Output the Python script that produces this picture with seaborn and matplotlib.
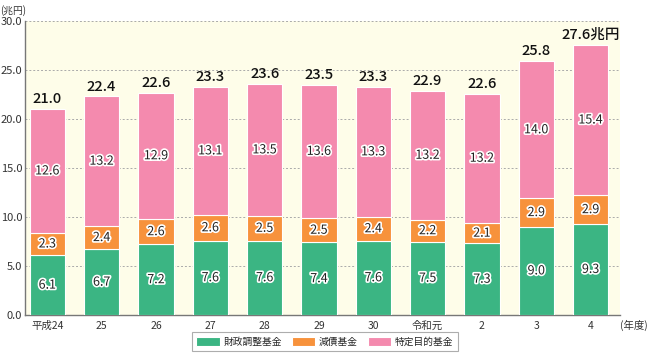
import numpy as np
import pandas as pd
import matplotlib
matplotlib.use("Agg")
import matplotlib.pyplot as plt
import matplotlib.patheffects as pe
import seaborn as sns

years = ["平成24", "25", "26", "27", "28", "29", "30", "令和元", "2", "3", "4"]
fiscal_adj = [6.1, 6.7, 7.2, 7.6, 7.6, 7.4, 7.6, 7.5, 7.3, 9.0, 9.3]
debt_red = [2.3, 2.4, 2.6, 2.6, 2.5, 2.5, 2.4, 2.2, 2.1, 2.9, 2.9]
specific = [12.6, 13.2, 12.9, 13.1, 13.5, 13.6, 13.3, 13.2, 13.2, 14.0, 15.4]
totals = [21.0, 22.4, 22.6, 23.3, 23.6, 23.5, 23.3, 22.9, 22.6, 25.8, 27.6]
series_names = ["財政調整基金", "減債基金", "特定目的基金"]
colors = ["#3bb583", "#f7923c", "#f48aae"]

sns.set_theme(style="white")
plt.rcParams["font.family"] = ["Noto Sans CJK JP", "DejaVu Sans"]

fig = plt.figure(figsize=(6.5, 3.55), dpi=100)
ax = fig.add_axes([0.0385, 0.1127, 0.916, 0.828])
ax.set_facecolor("#fefde9")

x = np.arange(len(years))
width = 0.65
bottom = np.zeros(len(years))
halo = [pe.withStroke(linewidth=2.4, foreground="white")]
for vals, name, c in zip([fiscal_adj, debt_red, specific], series_names, colors):
    vals = np.array(vals)
    ax.bar(x, vals, width, bottom=bottom, color=c, edgecolor="white",
           linewidth=0.8, label=name, zorder=3)
    for xi, b, v in zip(x, bottom, vals):
        ax.text(xi, b + v / 2, f"{v:.1f}", ha="center", va="center",
                fontsize=9, color="#222222", path_effects=halo, zorder=4)
    bottom = bottom + vals

for i, (xi, t) in enumerate(zip(x, totals)):
    lab = f"{t:.1f}兆円" if i == len(x) - 1 else f"{t:.1f}"
    ax.text(xi, bottom[i] + 0.3, lab, ha="center", va="bottom",
            fontsize=10.5, fontweight="medium", color="#111111", zorder=4)

ax.set_xlim(-0.41, 10.55)
ax.set_ylim(0, 30)
ax.set_yticks(np.arange(0, 30.1, 5))
ax.set_yticklabels([f"{v:.1f}" for v in np.arange(0, 30.1, 5)], fontsize=8, color="#333333")
ax.yaxis.grid(True, linestyle=(0, (2, 2)), color="#aaaaaa", linewidth=0.7, zorder=0)
ax.set_xticks(x)
ax.set_xticklabels(years, fontsize=7.5, color="#333333")
ax.tick_params(axis="x", length=0, pad=4)
ax.tick_params(axis="y", length=3, direction="in", color="#666666", pad=2)
# small separator ticks between bars
ax.set_xticks(x + 0.5, minor=True)
ax.tick_params(axis="x", which="minor", length=3, direction="in", color="#666666")

for s in ["top", "right"]:
    ax.spines[s].set_visible(False)
for s in ["left", "bottom"]:
    ax.spines[s].set_color("#777777")
    ax.spines[s].set_linewidth(1.0)

fig.text(0.0, 0.985, "(兆円)", fontsize=7, color="#333333", va="top", ha="left")
fig.text(0.997, 0.0845, "(年度)", fontsize=7.5, color="#333333", va="center", ha="right")

leg = fig.legend(loc="center", bbox_to_anchor=(0.5, 0.037), ncol=3, fontsize=7,
                 frameon=True, fancybox=False, edgecolor="#999999",
                 handlelength=2.4, handleheight=1.0, columnspacing=1.0,
                 handletextpad=0.4, borderpad=0.45)
leg.get_frame().set_linewidth(0.8)

plt.savefig("out.png", dpi=100)
